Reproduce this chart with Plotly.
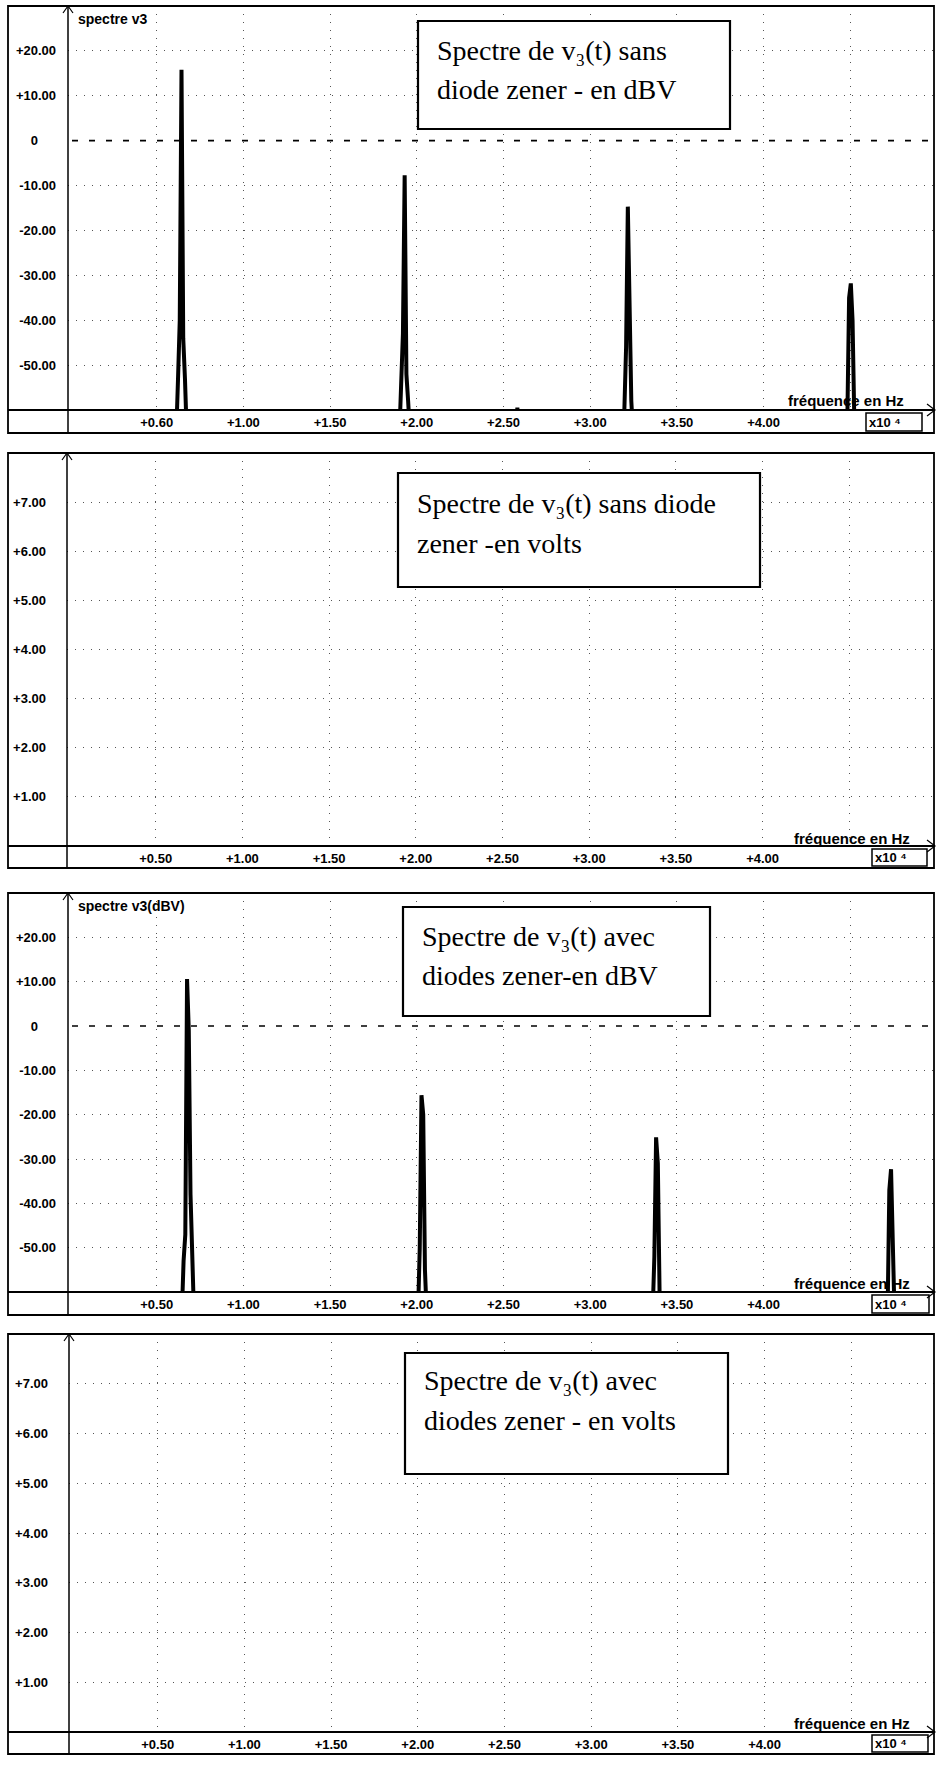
import plotly.graph_objects as go

W, H = 941, 1765

# ------------------------------------------------------------------ data
x_tickvals = [0.5, 1.0, 1.5, 2.0, 2.5, 3.0, 3.5, 4.0]
x_minor_grid = [4.5]
x_ticktext_p1 = ["+0.60", "+1.00", "+1.50", "+2.00", "+2.50", "+3.00", "+3.50", "+4.00"]
x_ticktext = ["+0.50", "+1.00", "+1.50", "+2.00", "+2.50", "+3.00", "+3.50", "+4.00"]

NB = "\u00a0"
dbv_tickvals = [20, 10, 0, -10, -20, -30, -40, -50]
dbv_ticktext = ["+20.00", "+10.00", "0" + NB * 5, "-10.00", "-20.00", "-30.00", "-40.00", "-50.00"]
dbv_gridvals = [20, 10, -10, -20, -30, -40, -50]
volt_tickvals = [1, 2, 3, 4, 5, 6, 7]
volt_ticktext = ["+1.00", "+2.00", "+3.00", "+4.00", "+5.00", "+6.00", "+7.00"]

# spectrum of v3 without zener diode (frequency in 1e4 Hz, level in dBV)
p1_freq = [0.0, 0.613, 0.623, 0.633, 0.643, 0.653, 0.663, 0.673,
           1.900, 1.910, 1.920, 1.930, 1.940, 1.950, 1.960,
           2.570, 2.580, 2.590,
           3.187, 3.197, 3.207, 3.217, 3.227, 3.237, 3.247,
           4.473, 4.483, 4.493, 4.503, 4.513, 4.523, 4.533, 5.0]
p1_dbv = [-65, -65, -53, -40, 15.8, -44, -53, -65,
          -65, -52, -43, -7.7, -52, -58, -65,
          -65, -59.5, -65,
          -65, -60, -46, -14.7, -35, -58, -65,
          -65, -62, -35, -31.8, -40, -62, -65, -65]

# spectrum of v3 with zener diodes (frequency in 1e4 Hz, level in dBV)
p3_freq = [0.0, 0.645, 0.655, 0.665, 0.675, 0.685, 0.695, 0.705, 0.715,
           2.007, 2.017, 2.027, 2.037, 2.047, 2.057,
           3.360, 3.370, 3.380, 3.390, 3.400, 3.410,
           4.715, 4.725, 4.735, 4.745, 4.755, 5.0]
p3_dbv = [-65, -65, -53, -47, 10.6, -1, -38, -52, -65,
          -65, -50, -15.6, -20, -55, -65,
          -65, -52, -25.1, -31, -60, -65,
          -65, -37, -32.3, -58, -65, -65]

title_lines = [
    ["Spectre de v\u2083(t) sans", "diode zener - en dBV"],
    ["Spectre de v\u2083(t) sans diode", "zener -en volts"],
    ["Spectre de v\u2083(t) avec", "diodes zener-en dBV"],
    ["Spectre de v\u2083(t) avec", "diodes zener - en volts"],
]
corner_labels = ["spectre v3", "", "spectre v3(dBV)", ""]
multiplier_label = "x10 \u2074"

# ------------------------------------------------------------------ layout geometry (pixels)
panels = [
    dict(top=6, axis=410, bottom=433, yax=68, box=(418, 730, 21, 129), tx=435, ty=(50, 89),
         fq=(906, 400), xb=(866, 922, 413, 431)),
    dict(top=453, axis=846, bottom=868, yax=67, box=(398, 760, 473, 587), tx=415, ty=(503, 543),
         fq=(912, 838), xb=(872, 927, 849, 866)),
    dict(top=893, axis=1292, bottom=1315, yax=68, box=(403, 710, 907, 1016), tx=420, ty=(936, 975),
         fq=(912, 1283), xb=(872, 929, 1295, 1313)),
    dict(top=1334, axis=1732, bottom=1754, yax=69, box=(405, 728, 1353, 1474), tx=422, ty=(1380, 1420),
         fq=(912, 1723), xb=(872, 928, 1735, 1752)),
]
LEFT, RIGHT = 8, 934
PX_PER_UNIT = 173.4


def X(px):
    return px / W


def Y(py):
    return 1 - py / H


fig = go.Figure()
fig.add_trace(go.Scatter(x=p1_freq, y=p1_dbv, mode="lines", line=dict(color="black", width=4),
                         xaxis="x", yaxis="y", showlegend=False, hoverinfo="skip"))
fig.add_trace(go.Scatter(x=[], y=[], mode="lines", xaxis="x2", yaxis="y2", showlegend=False))
fig.add_trace(go.Scatter(x=p3_freq, y=p3_dbv, mode="lines", line=dict(color="black", width=4),
                         xaxis="x3", yaxis="y3", showlegend=False, hoverinfo="skip"))
fig.add_trace(go.Scatter(x=[], y=[], mode="lines", xaxis="x4", yaxis="y4", showlegend=False))

tickfont = dict(family="Arial, Liberation Sans", size=13, color="black", weight="bold")
GRIDC = "#555555"
GRIDDASH = "1px,7px"
minor_grid = dict(showgrid=True, gridcolor=GRIDC, griddash=GRIDDASH, gridwidth=1, ticks="")

shapes = []
annotations = []
layout_axes = {}
for i, p in enumerate(panels):
    n = "" if i == 0 else str(i + 1)
    is_db = i in (0, 2)
    x_lo = -2 / PX_PER_UNIT
    x_hi = x_lo + (RIGHT - p["yax"]) / PX_PER_UNIT
    layout_axes["xaxis" + n] = dict(
        domain=[X(p["yax"]), X(RIGHT)], range=[x_lo, x_hi],
        anchor="y" + n, tickmode="array", tickvals=x_tickvals,
        ticktext=x_ticktext_p1 if i == 0 else x_ticktext,
        showgrid=True, gridcolor=GRIDC, griddash=GRIDDASH, gridwidth=1,
        zeroline=False, showline=False, ticks="",
        minor=dict(tickmode="array", tickvals=x_minor_grid, **minor_grid),
        tickfont=tickfont, ticklabelstandoff=3)
    layout_axes["yaxis" + n] = dict(
        domain=[Y(p["axis"]), Y(p["top"])],
        range=[-60, 30] if is_db else [0, 8],
        anchor="x" + n, tickmode="array",
        tickvals=dbv_tickvals if is_db else volt_tickvals,
        ticktext=dbv_ticktext if is_db else volt_ticktext,
        showgrid=False, zeroline=False, showline=False, ticks="",
        minor=dict(tickmode="array", tickvals=dbv_gridvals if is_db else volt_tickvals,
                   **minor_grid),
        tickfont=tickfont, ticklabelstandoff=11 if is_db else 20)

    line = dict(color="black", width=1.8)
    # outer frame
    shapes.append(dict(type="rect", xref="paper", yref="paper", x0=X(LEFT), x1=X(RIGHT),
                       y0=Y(p["bottom"]), y1=Y(p["top"]), line=line))
    # x axis line across the frame
    shapes.append(dict(type="line", xref="paper", yref="paper", x0=X(LEFT), x1=X(RIGHT),
                       y0=Y(p["axis"]), y1=Y(p["axis"]), line=dict(color="black", width=2)))
    # y axis line
    shapes.append(dict(type="line", xref="paper", yref="paper", x0=X(p["yax"]), x1=X(p["yax"]),
                       y0=Y(p["bottom"]), y1=Y(p["top"]), line=dict(color="black", width=1.5)))
    # arrow heads
    ax, at = p["yax"], p["top"]
    shapes.append(dict(type="path", xref="paper", yref="paper",
                       path=f"M {X(ax-5)},{Y(at+7)} L {X(ax)},{Y(at)} L {X(ax+5)},{Y(at+7)}",
                       line=dict(color="black", width=1.2)))
    ay = p["axis"]
    shapes.append(dict(type="path", xref="paper", yref="paper",
                       path=f"M {X(RIGHT-7)},{Y(ay-6)} L {X(RIGHT+1)},{Y(ay)} L {X(RIGHT-7)},{Y(ay+6)}",
                       line=dict(color="black", width=1.2)))
    # dashed 0 dBV line
    if is_db:
        shapes.append(dict(type="line", xref="paper", yref="y" + n, x0=X(p["yax"] + 4), x1=X(RIGHT),
                           y0=0, y1=0, layer="below",
                           line=dict(color="black", width=1.6, dash="6px,11px")))
    # title box
    bx0, bx1, by0, by1 = p["box"]
    shapes.append(dict(type="rect", xref="paper", yref="paper", x0=X(bx0), x1=X(bx1),
                       y0=Y(by1), y1=Y(by0), line=dict(color="black", width=2.2),
                       fillcolor="white", layer="above"))
    for txt, ty in zip(title_lines[i], p["ty"]):
        annotations.append(dict(xref="paper", yref="paper", x=X(p["tx"]), y=Y(ty),
                                xanchor="left", yanchor="middle", align="left", showarrow=False,
                                text=txt,
                                font=dict(family="Liberation Serif, Times New Roman", size=28,
                                          color="black")))
    # x10^4 box
    xb0, xb1, yb0, yb1 = p["xb"]
    shapes.append(dict(type="rect", xref="paper", yref="paper", x0=X(xb0), x1=X(xb1),
                       y0=Y(yb1), y1=Y(yb0), line=dict(color="black", width=1.5)))
    annotations.append(dict(xref="paper", yref="paper", x=X(xb0 + 1), y=Y((yb0 + yb1) / 2),
                            xanchor="left", yanchor="middle", showarrow=False,
                            text=multiplier_label, font=tickfont))
    # axis caption
    fx, fy = p["fq"]
    annotations.append(dict(xref="paper", yref="paper", x=X(fx), y=Y(fy),
                            xanchor="right", yanchor="middle", showarrow=False,
                            text="fréquence en Hz",
                            font=dict(family="Arial, Liberation Sans", size=15, color="black",
                                      weight="bold")))
    if corner_labels[i]:
        annotations.append(dict(xref="paper", yref="paper", x=X(76), y=Y(p["top"] + 13),
                                xanchor="left", yanchor="middle", showarrow=False,
                                text=corner_labels[i],
                                font=dict(family="Arial, Liberation Sans", size=14,
                                          color="black", weight="bold")))

fig.update_layout(
    width=W, height=H, margin=dict(l=0, r=0, t=0, b=0),
    paper_bgcolor="white", plot_bgcolor="white",
    shapes=shapes, annotations=annotations, showlegend=False,
    **layout_axes,
)

fig.write_html("out.html", config={"displayModeBar": False},
               post_script="document.body.style.margin='0px';")
